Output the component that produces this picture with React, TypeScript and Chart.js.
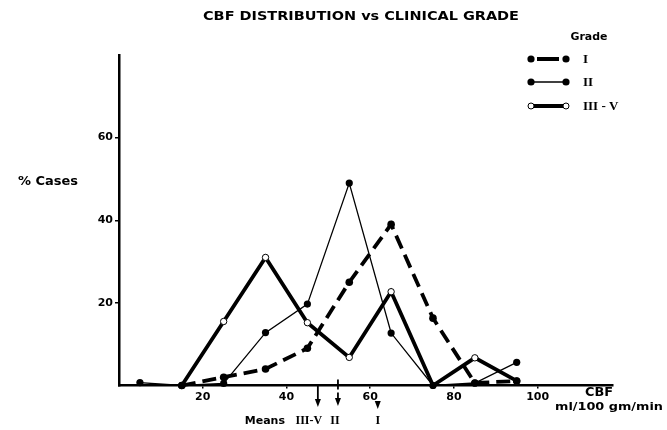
import React, { useEffect, useRef } from "react";
import { Chart, registerables } from "chart.js";
Chart.register(...registerables);

const cbfValues = [5, 15, 25, 35, 45, 55, 65, 75, 85, 95];
const gradeI = [null, 0, 2, 4, 9, 25, 39, 16.3, 0.6, 1.1];
const gradeII = [0.7, 0, 0.5, 12.8, 19.7, 49, 12.7, 0, 0.6, 5.6];
const gradeIIItoV = [null, 0, 15.5, 31, 15.2, 6.8, 22.7, 0, 6.7, 1.1];
const seriesLabels = ["I", "II", "III - V"];
const xTicks = [20, 40, 60, 80, 100];
const yTicks = [20, 40, 60];
const meansLabels = ["III-V", "II", "I"];
const meansValues = [47.5, 52.3, 61.8];

const SANS = "'DejaVu Sans', 'Liberation Sans', sans-serif";
const SERIF = "'Liberation Serif', 'DejaVu Serif', serif";

function toPoints(vals: (number | null)[]) {
  const out: { x: number; y: number }[] = [];
  vals.forEach((v, i) => {
    if (v !== null) out.push({ x: cbfValues[i], y: v });
  });
  return out;
}

function fillFit(ctx: CanvasRenderingContext2D, text: string, cx: number, y: number, width: number, font: string) {
  ctx.save();
  ctx.font = font;
  ctx.textAlign = "center";
  ctx.textBaseline = "middle";
  const w = ctx.measureText(text).width;
  ctx.translate(cx, y);
  ctx.scale(width / w, 1);
  ctx.fillText(text, 0, 0);
  ctx.restore();
}

const decorPlugin = {
  id: "decor",
  afterDraw(chart: any) {
    const ctx = chart.ctx as CanvasRenderingContext2D;
    const xs = chart.scales.x;
    const area = chart.chartArea;
    ctx.save();
    ctx.fillStyle = "#000";
    ctx.strokeStyle = "#000";
    // title
    fillFit(ctx, "CBF DISTRIBUTION vs CLINICAL GRADE", 361, 17, 316, `bold 12px ${SANS}`);
    // y label
    fillFit(ctx, "% Cases", 48, 182, 60, `bold 12px ${SANS}`);
    // x label
    fillFit(ctx, "CBF", 599, 393, 28, `bold 12px ${SANS}`);
    fillFit(ctx, "ml/100 gm/min", 609, 407, 108, `bold 11px ${SANS}`);
    // legend
    fillFit(ctx, "Grade", 589, 37, 37, `bold 11px ${SANS}`);
    const rows = [59, 82, 106];
    const x1 = 531, x2 = 566;
    ctx.beginPath();
    ctx.lineWidth = 4;
    ctx.moveTo(537, rows[0]);
    ctx.lineTo(559, rows[0]);
    ctx.stroke();
    [x1, x2].forEach((x) => {
      ctx.beginPath();
      ctx.arc(x, rows[0], 3.6, 0, Math.PI * 2);
      ctx.fill();
    });
    ctx.beginPath();
    ctx.lineWidth = 1.5;
    ctx.moveTo(x1, rows[1]);
    ctx.lineTo(x2, rows[1]);
    ctx.stroke();
    [x1, x2].forEach((x) => {
      ctx.beginPath();
      ctx.arc(x, rows[1], 3.6, 0, Math.PI * 2);
      ctx.fill();
    });
    ctx.beginPath();
    ctx.lineWidth = 4;
    ctx.moveTo(x1 + 3, rows[2]);
    ctx.lineTo(x2 - 3, rows[2]);
    ctx.stroke();
    ctx.lineWidth = 1;
    [x1, x2].forEach((x) => {
      ctx.beginPath();
      ctx.arc(x, rows[2], 3, 0, Math.PI * 2);
      ctx.fillStyle = "#fff";
      ctx.fill();
      ctx.stroke();
    });
    ctx.fillStyle = "#000";
    ctx.font = `bold 13px ${SERIF}`;
    ctx.textAlign = "left";
    ctx.textBaseline = "middle";
    seriesLabels.forEach((l, i) => ctx.fillText(l, 583, rows[i] + 1));

    // means
    const base = area.bottom;
    const arrow = (x: number, y0: number, tip: number) => {
      ctx.beginPath();
      ctx.lineWidth = 1.8;
      ctx.moveTo(x, y0);
      ctx.lineTo(x, tip - 5);
      ctx.stroke();
      ctx.beginPath();
      ctx.moveTo(x - 3, tip - 8);
      ctx.lineTo(x + 3, tip - 8);
      ctx.lineTo(x, tip);
      ctx.closePath();
      ctx.fill();
    };
    const mx = meansValues.map((v) => xs.getPixelForValue(v));
    arrow(mx[0], base, 407);
    ctx.beginPath();
    ctx.lineWidth = 1.8;
    ctx.moveTo(mx[1], base - 6);
    ctx.lineTo(mx[1], base + 4);
    ctx.stroke();
    arrow(mx[1], base + 7, 406);
    arrow(mx[2], 401, 409);
    ctx.font = `bold 11px ${SANS}`;
    ctx.textAlign = "right";
    ctx.fillText("Means", 285, 421);
    ctx.font = `bold 12px ${SERIF}`;
    ctx.textAlign = "center";
    const offs = [-9, -3, 0];
    meansLabels.forEach((l, i) => ctx.fillText(l, mx[i] + offs[i], 421));
    ctx.restore();
  },
};

export default function App() {
  const ref = useRef<HTMLCanvasElement | null>(null);
  useEffect(() => {
    if (!ref.current) return;
    const tickFont = { family: SANS, weight: "bold" as const, size: 11 };
    const chart = new Chart(ref.current, {
      type: "line",
      data: {
        datasets: [
          {
            label: seriesLabels[0],
            data: toPoints(gradeI),
            borderColor: "#000",
            backgroundColor: "#000",
            borderWidth: 3.8,
            borderDash: [14, 7],
            pointRadius: 3.8,
            pointBackgroundColor: "#000",
            pointBorderWidth: 0,
            tension: 0,
            clip: false as any,
          },
          {
            label: seriesLabels[1],
            data: toPoints(gradeII),
            borderColor: "#000",
            backgroundColor: "#000",
            borderWidth: 1.3,
            pointRadius: 3.6,
            pointBackgroundColor: "#000",
            pointBorderWidth: 0,
            tension: 0,
            clip: false as any,
          },
          {
            label: seriesLabels[2],
            data: toPoints(gradeIIItoV),
            borderColor: "#000",
            backgroundColor: "#fff",
            borderWidth: 3.8,
            pointRadius: 3.2,
            pointBackgroundColor: "#fff",
            pointBorderColor: "#000",
            pointBorderWidth: 1,
            tension: 0,
            clip: false as any,
          },
        ],
      },
      options: {
        responsive: false,
        animation: false,
        devicePixelRatio: 1,
        layout: { padding: { left: 0, top: 55, right: 54, bottom: 0 } },
        plugins: {
          legend: { display: false },
          title: { display: false },
          tooltip: { enabled: false },
        },
        scales: {
          x: {
            type: "linear",
            min: 0,
            max: 118,
            afterBuildTicks: (s: any) => {
              s.ticks = xTicks.map((v) => ({ value: v }));
            },
            afterFit: (s: any) => {
              s.height = 44.5;
            },
            grid: {
              drawOnChartArea: false,
              drawTicks: true,
              tickLength: 3,
              color: "#000",
              lineWidth: 1.5,
            },
            border: { display: true, color: "#000", width: 2.5 },
            ticks: {
              color: "#000",
              padding: 2,
              maxRotation: 0,
              font: tickFont,
            },
          },
          y: {
            type: "linear",
            min: 0,
            max: 80,
            afterBuildTicks: (s: any) => {
              s.ticks = yTicks.map((v) => ({ value: v }));
            },
            afterFit: (s: any) => {
              s.width = 119;
            },
            grid: {
              drawOnChartArea: false,
              drawTicks: true,
              tickLength: 4,
              color: "#000",
              lineWidth: 1.5,
            },
            border: { display: true, color: "#000", width: 2.5 },
            ticks: {
              color: "#000",
              padding: 2,
              font: tickFont,
            },
          },
        },
      },
      plugins: [decorPlugin],
    });
    return () => chart.destroy();
  }, []);
  return (
    <div style={{ position: "fixed", left: 0, top: 0, width: 667, height: 430, background: "#fff" }}>
      <canvas ref={ref} width={667} height={430} style={{ display: "block" }} />
    </div>
  );
}
